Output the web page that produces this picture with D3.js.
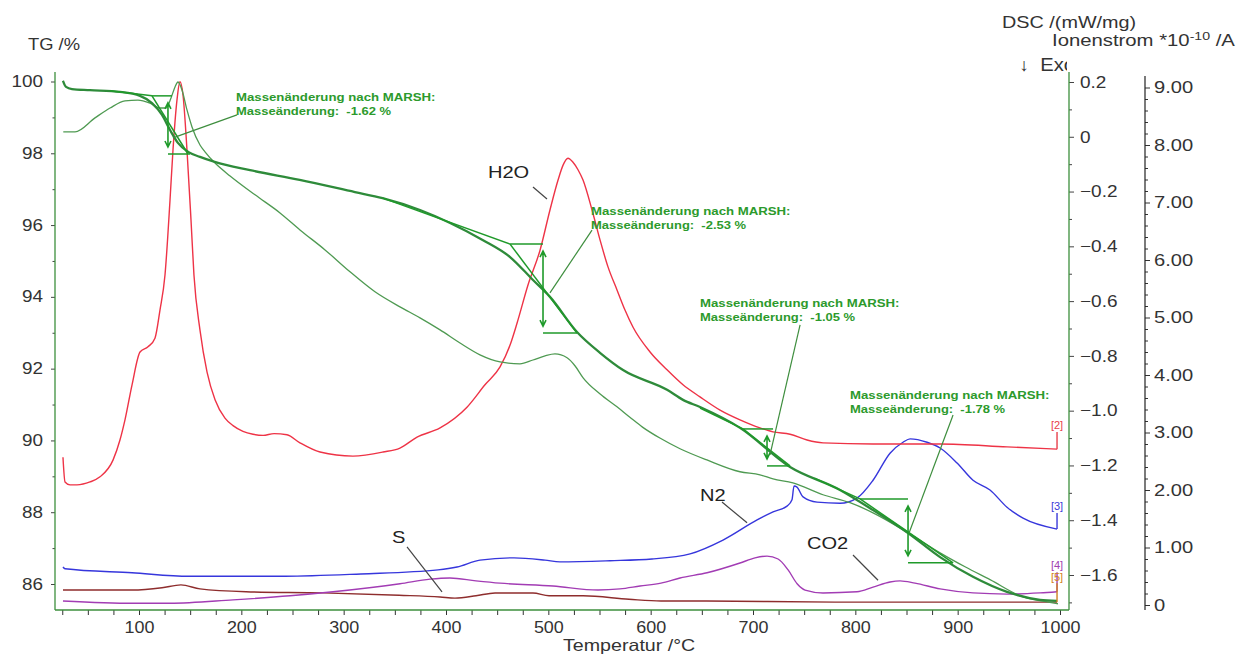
<!DOCTYPE html>
<html>
<head>
<meta charset="utf-8">
<script src="https://cdn.jsdelivr.net/npm/d3@7"></script>
<style>
body{margin:0;background:#fff;}
svg{display:block;font-family:"Liberation Sans",Arial,sans-serif;}
</style>
</head>
<body>
<svg id="chart" width="1237" height="655"></svg>
<script>
// ---- data: [Temperatur °C, Wert] ----
var tgCurve = [[25.7,100.02],[28.7,99.85],[34.5,99.79],[52,99.76],[81.4,99.71],[101,99.6],[112.7,99.4],[122.5,99.07],[130.3,98.65],[138,98.29],[148,98.04],[159.6,97.9],[174,97.76],[208.5,97.53],[257,97.26],[311,96.92],[338,96.75],[374.6,96.42],[404,96.06],[436.2,95.58],[462.6,95.11],[485,94.47],[501.6,94.0],[528,93.02],[550.5,92.44],[573,91.96],[616,91.41],[631.6,91.13],[648.2,90.93],[687.3,90.35],[736.2,89.26],[785,88.62],[817.3,88.06],[851.5,87.42],[882.8,86.75],[915,86.2],[948.2,85.78],[980.5,85.56],[997.1,85.53]];

var dscCurve = [[26,0.018],[37.5,0.018],[57,0.069],[71.7,0.105],[86.3,0.131],[99,0.134],[110.7,0.123],[120.5,0.105],[126.4,0.105],[131.3,0.142],[135.2,0.182],[138.1,0.2],[142,0.171],[146.9,0.098],[151.8,0.036],[159.6,-0.03],[164.5,-0.055],[174.3,-0.096],[189,-0.143],[213.4,-0.212],[237.8,-0.278],[257.3,-0.34],[281.8,-0.413],[306.2,-0.493],[330.6,-0.566],[355,-0.621],[374.6,-0.661],[394.2,-0.705],[413.7,-0.753],[433.2,-0.796],[452.8,-0.822],[472.3,-0.829],[485,-0.815],[496.8,-0.8],[506.5,-0.793],[518.3,-0.807],[526,-0.836],[534,-0.88],[550.6,-0.939],[567.1,-0.986],[580,-1.025],[592,-1.06],[609,-1.1],[628.7,-1.139],[655,-1.18],[687.3,-1.223],[706.8,-1.234],[719.6,-1.249],[739,-1.264],[768.4,-1.307],[794.8,-1.336],[817.3,-1.373],[851.5,-1.446],[882.8,-1.519],[907.2,-1.57],[931.6,-1.617],[963.9,-1.68],[987.3,-1.698],[998,-1.705]];

var h2oCurve = [[25.7,2.57],[27.7,2.14],[32.6,2.09],[39.4,2.09],[52.1,2.14],[61.9,2.23],[74.6,2.52],[81.4,2.87],[86.3,3.22],[93.2,3.83],[101,4.40],[108.8,4.49],[115.6,4.64],[120.5,5.13],[125.4,5.74],[130.3,7.04],[133.2,7.91],[137.1,8.78],[140,9.10],[143,8.87],[146.9,7.91],[150.8,6.70],[153.7,5.74],[159.6,4.78],[166.5,4.05],[174.3,3.57],[184,3.25],[191.9,3.12],[201.6,3.02],[211.4,2.97],[221.2,2.95],[232,2.98],[244.6,2.96],[257.3,2.82],[276.9,2.66],[309.1,2.59],[338.4,2.66],[355,2.73],[371.7,2.92],[394.2,3.08],[420.5,3.44],[438.1,3.83],[452.8,4.14],[462.6,4.52],[469.4,4.90],[480.2,5.57],[491.9,6.17],[501.6,6.87],[509.5,7.39],[514.4,7.65],[519.2,7.77],[524.1,7.70],[529,7.57],[533.9,7.39],[542.7,6.87],[550.5,6.35],[558.3,5.88],[567.1,5.48],[574.9,5.13],[582.8,4.83],[599.4,4.40],[616,4.09],[631.6,3.83],[648.2,3.62],[667.8,3.39],[687.3,3.22],[706.8,3.08],[719.6,3.01],[736.2,2.97],[752.8,2.87],[768.4,2.82],[817.3,2.80],[882.8,2.80],[948.2,2.75],[997.1,2.71]];

var n2Curve = [[25.7,0.66],[27.7,0.63],[93.2,0.56],[148.9,0.50],[242.7,0.50],[316.9,0.54],[392.2,0.61],[410.8,0.66],[433.2,0.78],[466.5,0.82],[496.8,0.78],[511.4,0.75],[560.3,0.77],[601.3,0.80],[638.5,0.89],[670.7,1.13],[704,1.48],[719.6,1.62],[733.3,1.72],[738.1,1.83],[740.1,2.07],[743,2.05],[748.9,1.88],[762.6,1.79],[785,1.77],[801.6,1.86],[817.3,2.17],[833.9,2.64],[846.6,2.83],[853.5,2.89],[870.1,2.83],[882.8,2.73],[899.4,2.47],[915,2.17],[931.6,2.0],[948.2,1.70],[963.9,1.51],[997.1,1.32]];

var co2Curve = [[25.7,0.07],[94.1,0.03],[130.3,0.03],[191.9,0.09],[247.6,0.16],[289.6,0.23],[355.1,0.37],[384.4,0.45],[403.9,0.47],[429.3,0.42],[452.8,0.38],[504.6,0.33],[548.6,0.26],[570,0.28],[589.6,0.33],[610.1,0.38],[628.7,0.47],[655.1,0.56],[687.3,0.73],[702,0.82],[713.7,0.85],[724.5,0.80],[734.3,0.61],[743.1,0.37],[750.9,0.26],[768.4,0.21],[801.6,0.23],[817.3,0.31],[833.9,0.40],[843.7,0.42],[858.3,0.38],[882.8,0.28],[915,0.21],[948.2,0.19],[980.5,0.21],[997.1,0.23]];

var sCurve = [[25.7,0.26],[93.2,0.26],[122.5,0.30],[141,0.35],[159.6,0.28],[204.6,0.23],[279.8,0.21],[354.1,0.17],[394.2,0.14],[408.8,0.12],[429.3,0.16],[447.9,0.21],[485,0.21],[500.7,0.16],[533.9,0.16],[578.8,0.10],[610.1,0.07],[652.1,0.07],[780.2,0.05],[997.1,0.05]];

var tempTicks = d3.range(25, 1001, 25);
var tgTicks = d3.range(86, 100.5, 1);
var dscTicks = d3.range(-17, 3, 1).map(function(d){return d/10;});
var ionTicks = d3.range(0, 46, 1).map(function(d){return d/5;});

// MARSH-Auswertung: Stufen auf der TG-Kurve
var marshSteps = [
	{upper:[71.7,99.74], t1:112.7, tA:128.3, t2:147.9, top:99.6, bot:97.98, topEnd:132.2, botEnd:149.8, from:[133.2,98.43], to:[195.8,99.07], label:[194.8,99.46], value:"-1.62"},
	{upper:[338.4,96.75], t1:462.6, tA:494.8, t2:528, top:95.47, bot:92.99, topEnd:494.8, botEnd:528, from:[501.6,94.11], to:[542.7,95.86], label:[541.7,96.28], value:"-2.53"},
	{upper:[648.2,90.9], t1:690.3, tA:713.7, t2:736.2, top:90.32, bot:89.29, topEnd:719.6, botEnd:736.2, from:[716.6,89.6], to:[746,93.22], label:[648.2,93.72], value:"-1.05"},
	{upper:[760,88.95], t1:804.6, tA:851.5, t2:895.5, top:88.37, bot:86.59, topEnd:851.5, botEnd:895.5, from:[852.5,87.42], to:[895.5,90.71], label:[794.8,91.16], value:"-1.78"}
];

// Gas-Beschriftungen (Ionenstrom-Achse)
var gasLabels = [
	{text:"H2O", at:[441,7.43], from:[485,7.27], to:[498.7,7.06]},
	{text:"N2", at:[648.2,1.81], from:[669.7,1.79], to:[694.2,1.43]},
	{text:"CO2", at:[752.8,0.97], from:[797.7,0.87], to:[822.2,0.43]},
	{text:"S", at:[347.2,1.08], from:[361.9,1.01], to:[396.1,0.23]}
];

// Kurvenenden [n]
var endMarks = [
	{name:"[2]", curve:h2oCurve, lineTo:3.01, labelAt:3.13, color:"#e8404a"},
	{name:"[3]", curve:n2Curve, lineTo:1.60, labelAt:1.72, color:"#3a3ad8"},
	{name:"[4]", curve:co2Curve, lineTo:0.57, labelAt:0.70, color:"#a040b0"},
	{name:"[5]", curve:sCurve, lineTo:0.38, labelAt:0.49, color:"#d08020"}
];

var svg = d3.select("#chart");

var xS = d3.scaleLinear().domain([100, 1000]).range([139, 1060]);
var tgS = d3.scaleLinear().domain([86, 100]).range([584, 81.5]);
var dscS = d3.scaleLinear().domain([-1.6, 0.2]).range([575, 82]);
var ionS = d3.scaleLinear().domain([0, 9]).range([605, 87.5]);

var AX_GREEN = "#3d8f3d", TXT = "#333";

function stretch(sel, k){
	sel.each(function(){
		var w = this.getComputedTextLength();
		if (w > 0) d3.select(this).attr("textLength", w * k).attr("lengthAdjust", "spacingAndGlyphs");
	});
}
function styleAxis(g, color, size){
	g.select(".domain").remove();
	g.selectAll("line").attr("stroke", color);
	g.selectAll("text").attr("fill", TXT).attr("font-size", size)
		.attr("font-family", "Liberation Sans, Arial, sans-serif");
}

// ---- Achsen ----
var gx = svg.append("g").attr("transform", "translate(0,610)")
	.call(d3.axisBottom(xS).tickValues(tempTicks).tickSize(5).tickPadding(7)
		.tickFormat(function(d){return d % 100 === 0 ? d : "";}));
styleAxis(gx, "#333", 16);
stretch(gx.selectAll("text"), 1.12);

var gl = svg.append("g").attr("transform", "translate(55,0)")
	.call(d3.axisLeft(tgS).tickValues(tgTicks).tickSize(4).tickPadding(8)
		.tickFormat(function(d){return d % 2 === 0 ? d : "";}));
styleAxis(gl, "#444", 16);
gl.selectAll(".tick").filter(function(d){return d % 2 !== 0;}).select("line").attr("x2", -2.5);
stretch(gl.selectAll("text"), 1.18);

var gd = svg.append("g").attr("transform", "translate(1069,0)")
	.call(d3.axisRight(dscS).tickValues(dscTicks).tickSize(5).tickPadding(6)
		.tickFormat(function(d){
			var i = Math.round(d * 10);
			if (i % 2 !== 0) return "";
			return i === 0 ? "0" : d3.format(".1f")(d);
		}));
styleAxis(gd, "#444", 16.5);
gd.selectAll(".tick").filter(function(d){return Math.round(d * 10) % 2 !== 0;}).select("line").attr("x2", 3);
stretch(gd.selectAll("text"), 1.15);

var gi = svg.append("g").attr("transform", "translate(1145,0)")
	.call(d3.axisRight(ionS).tickValues(ionTicks).tickSize(5).tickPadding(4)
		.tickFormat(function(d){
			var i = Math.round(d * 5);
			if (i % 5 !== 0) return "";
			return i === 0 ? "0" : d3.format(".2f")(d);
		}));
styleAxis(gi, "#333", 16.5);
gi.selectAll(".tick").filter(function(d){return Math.round(d * 5) % 5 !== 0;}).select("line").attr("x2", 3);
stretch(gi.selectAll("text"), 1.22);

svg.append("line").attr("x1", 55).attr("x2", 55).attr("y1", 72).attr("y2", 610).attr("stroke", AX_GREEN).attr("stroke-width", 1.3);
svg.append("line").attr("x1", 55).attr("x2", 1069).attr("y1", 610).attr("y2", 610).attr("stroke", AX_GREEN).attr("stroke-width", 1.3);
svg.append("line").attr("x1", 1069).attr("x2", 1069).attr("y1", 72).attr("y2", 610).attr("stroke", AX_GREEN).attr("stroke-width", 1.3);
svg.append("line").attr("x1", 1145).attr("x2", 1145).attr("y1", 76).attr("y2", 610).attr("stroke", "#222").attr("stroke-width", 1.2);

// ---- Achsentitel ----
var tTG = svg.append("text").attr("x", 28).attr("y", 50).attr("font-size", 17).attr("fill", TXT).text("TG /%");
stretch(tTG, 1.08);
var tDSC = svg.append("text").attr("x", 1002).attr("y", 28).attr("font-size", 16.5).attr("fill", TXT).text("DSC /(mW/mg)");
stretch(tDSC, 1.2);
var tIon = svg.append("text").attr("x", 1052).attr("y", 46).attr("font-size", 16.5).attr("fill", TXT);
tIon.append("tspan").text("Ionenstrom *10");
tIon.append("tspan").attr("font-size", 11.5).attr("dy", -6).text("-10");
tIon.append("tspan").attr("dy", 6).text(" /A");
stretch(tIon, 1.23);
svg.append("clipPath").attr("id", "exoClip").append("rect").attr("x", 0).attr("y", 0).attr("width", 1067).attr("height", 655);
var tExo = svg.append("text").attr("x", 1019).attr("y", 71).attr("font-size", 17.5).attr("fill", TXT)
	.attr("clip-path", "url(#exoClip)").style("white-space", "pre").text("\u2193  Exo");
stretch(tExo, 1.15);
var tTemp = svg.append("text").attr("x", 563).attr("y", 651).attr("font-size", 16.5).attr("fill", TXT).text("Temperatur /\u00b0C");
stretch(tTemp, 1.19);

// ---- Kurven ----
function drawCurve(data, yS, color, width){
	var line = d3.line().curve(d3.curveMonotoneX)
		.x(function(d){return xS(d[0]);}).y(function(d){return yS(d[1]);});
	svg.append("path").datum(data).attr("d", line)
		.attr("fill", "none").attr("stroke", color).attr("stroke-width", width)
		.attr("stroke-linejoin", "round");
}
drawCurve(sCurve, ionS, "#8e2d2d", 1.4);
drawCurve(co2Curve, ionS, "#a23cb4", 1.4);
drawCurve(n2Curve, ionS, "#3636dc", 1.4);
drawCurve(h2oCurve, ionS, "#ee3346", 1.4);
drawCurve(dscCurve, dscS, "#4f9a52", 1.3);
drawCurve(tgCurve, tgS, "#2e8b3a", 2.3);

// Kurvenenden
endMarks.forEach(function(m){
	var last = m.curve[m.curve.length - 1];
	var x = xS(last[0]);
	svg.append("line").attr("x1", x).attr("x2", x)
		.attr("y1", ionS(last[1])).attr("y2", ionS(m.lineTo))
		.attr("stroke", m.color).attr("stroke-width", 1.4);
	svg.append("text").attr("x", x).attr("y", ionS(m.labelAt) + 4)
		.attr("text-anchor", "middle").attr("font-size", 11).attr("fill", m.color).text(m.name);
});

// ---- MARSH-Konstruktion ----
var MG = "#1f9a2a";
function seg(p1, p2, color, w){
	svg.append("line").attr("x1", xS(p1[0])).attr("y1", tgS(p1[1]))
		.attr("x2", xS(p2[0])).attr("y2", tgS(p2[1]))
		.attr("stroke", color).attr("stroke-width", w);
}
marshSteps.forEach(function(s){
	seg(s.upper, [s.t1, s.top], MG, 1.5);
	seg([s.t1, s.top], [s.topEnd, s.top], MG, 1.5);
	seg([s.t1, s.top], [s.t2, s.bot], MG, 1.5);
	seg([s.tA, s.bot], [s.botEnd, s.bot], MG, 1.5);
	seg(s.from, s.to, "#3e8e3e", 1.2);

	var x = xS(s.tA), y1 = tgS(s.top) + 7, y2 = tgS(s.bot) - 7;
	svg.append("path")
		.attr("d", "M" + x + "," + y1 + "L" + x + "," + y2 +
			"M" + (x - 3) + "," + (y1 + 6) + "L" + x + "," + y1 + "L" + (x + 3) + "," + (y1 + 6) +
			"M" + (x - 3) + "," + (y2 - 6) + "L" + x + "," + y2 + "L" + (x + 3) + "," + (y2 - 6))
		.attr("fill", "none").attr("stroke", MG).attr("stroke-width", 1.6);

	var lx = xS(s.label[0]), ly = tgS(s.label[1]);
	var t = svg.append("text").attr("font-size", 11).attr("font-weight", "bold")
		.attr("fill", "#2c9a2c").style("white-space", "pre")
		.attr("x", lx).attr("y", ly).text("Massen\u00e4nderung nach MARSH:");
	var t2 = svg.append("text").attr("font-size", 11).attr("font-weight", "bold")
		.attr("fill", "#2c9a2c").style("white-space", "pre")
		.attr("x", lx).attr("y", ly + 14).text("Masse\u00e4nderung:  " + s.value + " %");
	stretch(t, 1.2);
	stretch(t2, 1.18);
});

// ---- Gas-Beschriftungen ----
gasLabels.forEach(function(g){
	var t = svg.append("text").attr("x", xS(g.at[0])).attr("y", ionS(g.at[1]))
		.attr("font-size", 17).attr("fill", "#222").text(g.text);
	stretch(t, 1.18);
	svg.append("line").attr("x1", xS(g.from[0])).attr("y1", ionS(g.from[1]))
		.attr("x2", xS(g.to[0])).attr("y2", ionS(g.to[1]))
		.attr("stroke", "#444").attr("stroke-width", 1.2);
});
</script>
</body>
</html>
